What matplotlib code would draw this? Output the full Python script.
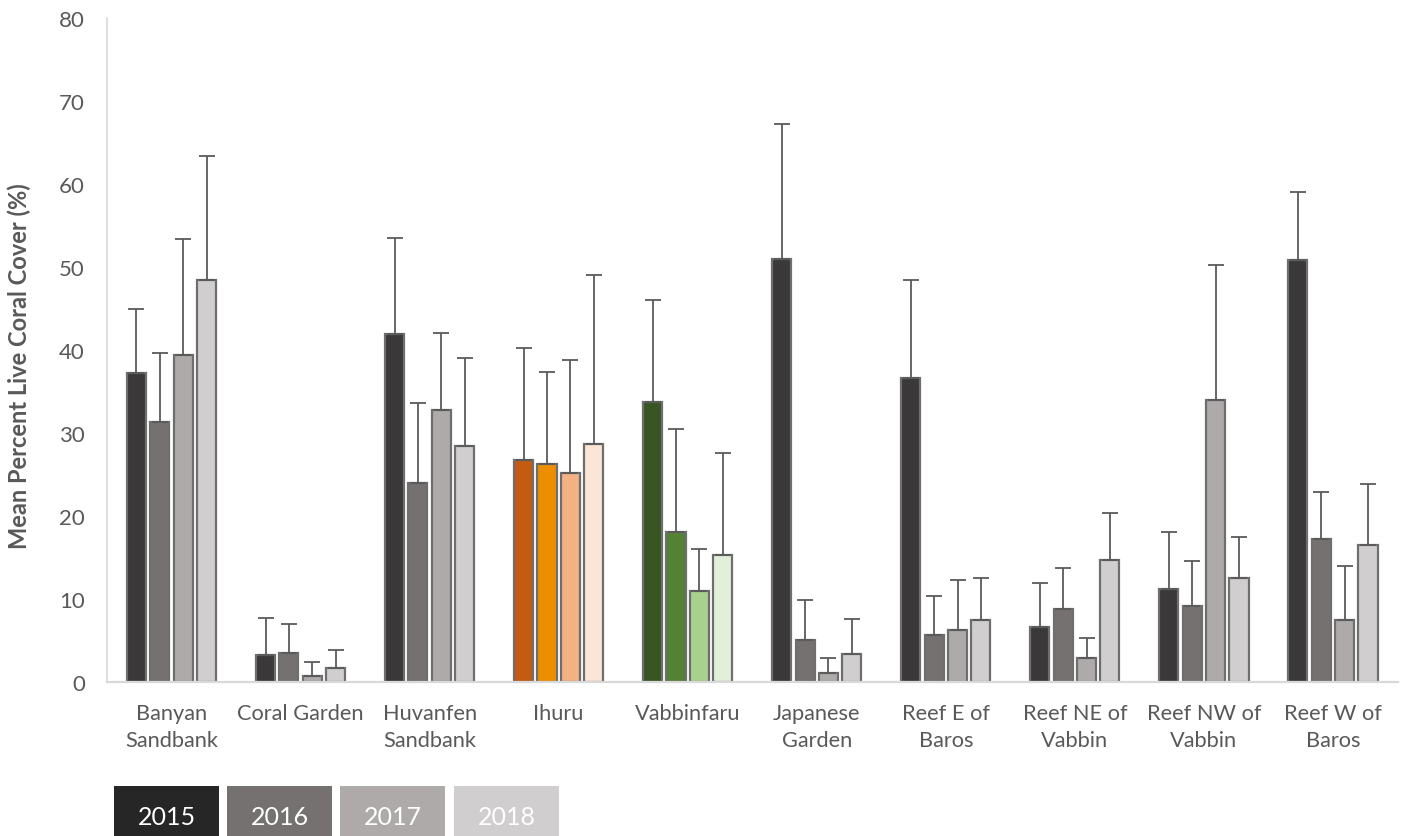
import numpy as np
import matplotlib
matplotlib.use("Agg")
import matplotlib.pyplot as plt
from matplotlib.patches import Rectangle

plt.rcParams['font.family'] = ['Lato', 'DejaVu Sans']

sites = ["Banyan\nSandbank", "Coral Garden", "Huvanfen\nSandbank", "Ihuru", "Vabbinfaru",
         "Japanese\nGarden", "Reef E of\nBaros", "Reef NE of\nVabbin", "Reef NW of\nVabbin",
         "Reef W of\nBaros"]
years = ["2015", "2016", "2017", "2018"]

means_2015 = [37.2, 3.2, 41.9, 26.7, 33.7, 51.0, 36.6, 6.6, 11.2, 50.9]
means_2016 = [31.3, 3.5, 24.0, 26.2, 18.0, 5.0, 5.6, 8.8, 9.1, 17.2]
means_2017 = [39.4, 0.7, 32.8, 25.2, 10.9, 1.0, 6.2, 2.8, 34.0, 7.4]
means_2018 = [48.5, 1.6, 28.4, 28.7, 15.3, 3.4, 7.5, 14.7, 12.5, 16.5]

upper_2015 = [45.0, 7.7, 53.5, 40.2, 46.0, 67.3, 48.5, 11.9, 18.1, 59.1]
upper_2016 = [39.6, 7.0, 33.6, 37.3, 30.5, 9.8, 10.3, 13.7, 14.5, 22.9]
upper_2017 = [53.4, 2.4, 42.0, 38.8, 16.0, 2.8, 12.3, 5.3, 50.3, 13.9]
upper_2018 = [63.4, 3.8, 39.0, 49.0, 27.6, 7.6, 12.5, 20.3, 17.4, 23.8]

grey_colors = ["#3A3838", "#757171", "#AEAAAA", "#D0CECE"]
ihuru_colors = ["#C55A11", "#ED8E00", "#F4B183", "#FBE5D6"]
vabbin_colors = ["#375623", "#548235", "#A9D18E", "#E2F0D9"]
legend_colors = ["#262626", "#757171", "#AEAAAA", "#D0CECE"]

means = [means_2015, means_2016, means_2017, means_2018]
uppers = [upper_2015, upper_2016, upper_2017, upper_2018]

W, H = 1402, 837
fig = plt.figure(figsize=(W / 100, H / 100), dpi=100)
ax_w = 1397.5 - 107
ax = fig.add_axes([107 / W, 1 - 682.7 / H, ax_w / W, (682.7 - 19.3) / H])

x = np.arange(len(sites))
pitch = 0.181
bw = 0.148
for j in range(4):
    m = np.array(means[j])
    err = np.array(uppers[j]) - m
    cols = []
    for i in range(len(sites)):
        if i == 3:
            cols.append(ihuru_colors[j])
        elif i == 4:
            cols.append(vabbin_colors[j])
        else:
            cols.append(grey_colors[j])
    xpos = x + (j - 1.5) * pitch
    ax.bar(xpos, m, width=bw, color=cols, edgecolor="#6E6E6E", linewidth=1.6, zorder=2)
    ax.errorbar(xpos, m, yerr=[np.zeros_like(err), err], fmt="none", ecolor="#5A5A5A",
                elinewidth=1.3, capsize=5.5, capthick=1.3, zorder=3)

ax.set_xlim(-0.5, len(sites) - 0.5)
ax.set_ylim(0, 80)
ax.set_yticks(np.arange(0, 81, 10))
ax.set_xticks(x)
ax.set_xticklabels(sites, fontsize=15.7, color="#595959", linespacing=1.45)
ax.tick_params(axis="both", length=0, labelcolor="#595959")
ax.tick_params(axis="y", labelsize=16)
ax.tick_params(axis="x", pad=15)
ax.tick_params(axis="y", pad=16)
for s in ["top", "right"]:
    ax.spines[s].set_visible(False)
ax.spines["left"].set_color("#D9D9D9")
ax.spines["left"].set_linewidth(1.2)
ax.spines["bottom"].set_color("#D9D9D9")
ax.spines["bottom"].set_linewidth(1.6)
ax.set_ylabel("Mean Percent Live Coral Cover (%)", fontsize=17, fontweight="bold",
              color="#595959")
ax.yaxis.set_label_coords(-(107 - 31) / ax_w, 0.477)

# legend boxes
box_x = [114, 227.3, 340, 454]
box_w = 105
for k, yr in enumerate(years):
    x0 = box_x[k]
    fig.add_artist(Rectangle((x0 / W, 0), box_w / W, 50 / H, transform=fig.transFigure,
                             facecolor=legend_colors[k], edgecolor="none"))
    fig.text((x0 + box_w / 2) / W, (837 - 818) / H, yr, color="white", fontsize=18,
             ha="center", va="center")

fig.savefig("out.png", dpi=100)
